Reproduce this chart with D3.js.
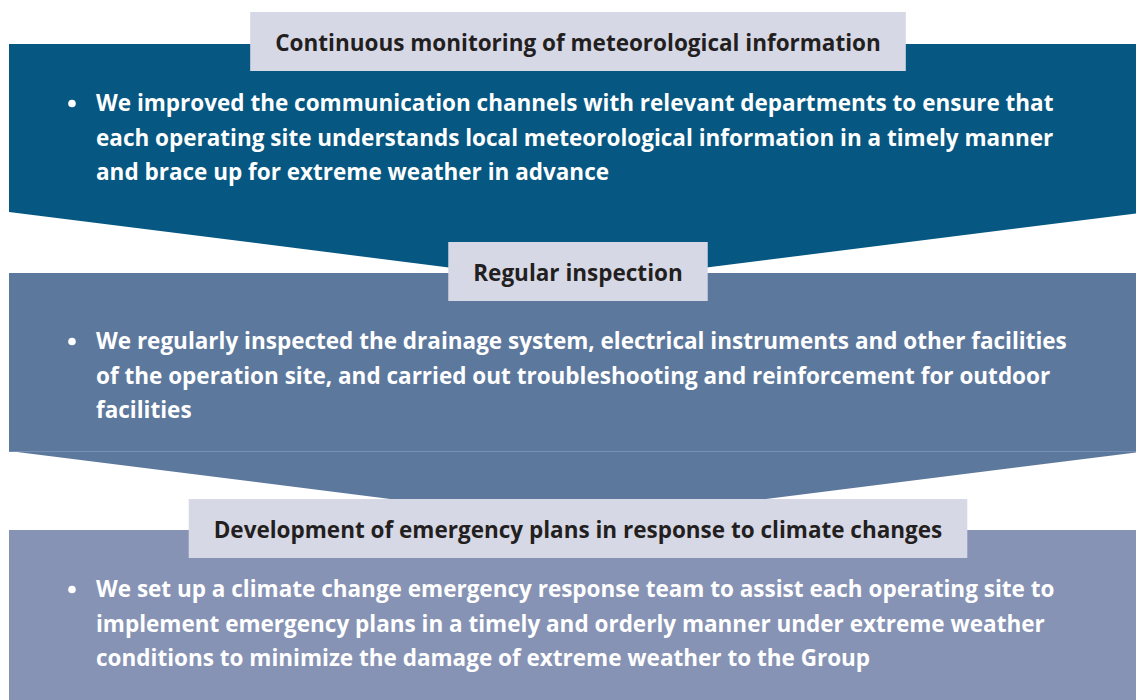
<!DOCTYPE html>
<html>
<head>
<meta charset="utf-8">
<script src="https://cdn.jsdelivr.net/npm/d3@7"></script>
<style>
  body { margin: 0; background: #ffffff; }
  svg { display: block; }
</style>
</head>
<body>
<div id="chart"></div>
<script>
// section titles (the grey tabs)
const titles = [
    "Continuous monitoring of meteorological information",
    "Regular inspection",
    "Development of emergency plans in response to climate changes"
];

// bullet text, one array of wrapped lines per section
const bullets1 = [
    "We improved the communication channels with relevant departments to ensure that",
    "each operating site understands local meteorological information in a timely manner",
    "and brace up for extreme weather in advance"
];
const bullets2 = [
    "We regularly inspected the drainage system, electrical instruments and other facilities",
    "of the operation site, and carried out troubleshooting and reinforcement for outdoor",
    "facilities"
];
const bullets3 = [
    "We set up a climate change emergency response team to assist each operating site to",
    "implement emergency plans in a timely and orderly manner under extreme weather",
    "conditions to minimize the damage of extreme weather to the Group"
];

const fills = ["#065781", "#5d789d", "#8793b4"];

function draw() {
    const w = 1136, h = 700;
    const left = 9, cx = 578, right = 2 * cx - left;
    const font = "'Open Sans', 'Noto Sans', sans-serif";
    const fontSize = "22.5px";

    const svg = d3.select("#chart").append("svg")
        .attr("width", w)
        .attr("height", h);

    const sections = titles.map(function(t, i) {
        return {title: t, lines: [bullets1, bullets2, bullets3][i], fill: fills[i]};
    });

    // band tops and chevron shoulders
    const tops = [44, 273, 530];
    const shoulders = [212, 451, h];
    const tipDrop = 0.126 * (cx - left);

    // draw bottom to top so each chevron tip tucks under the next band
    sections.slice().reverse().forEach(function(s, ri) {
        const i = sections.length - 1 - ri;
        const y0 = tops[i], y1 = shoulders[i];
        let pts;
        if (i < sections.length - 1) {
            pts = [[left, y0], [right, y0], [right, y1], [cx, y1 + tipDrop], [left, y1]];
        } else {
            pts = [[left, y0], [right, y0], [right, y1], [left, y1]];
        }
        svg.insert("path", ":first-child")
            .attr("d", d3.line()(pts) + "Z")
            .attr("fill", s.fill);
    });

    // faint seam on the second band
    svg.append("line")
        .attr("x1", left).attr("x2", w)
        .attr("y1", 451.5).attr("y2", 451.5)
        .attr("stroke", "#7590b0")
        .attr("stroke-width", 1);

    // bullets
    const lineGap = 34.5;
    const firstLine = [111, 349, 597];
    sections.forEach(function(s, i) {
        const g = svg.append("g");
        g.append("circle")
            .attr("cx", 72)
            .attr("cy", firstLine[i] - 7.5)
            .attr("r", 3.8)
            .attr("fill", "#ffffff");
        g.selectAll("text")
            .data(s.lines)
            .enter()
            .append("text")
            .attr("x", 96)
            .attr("y", function(d, j) { return firstLine[i] + j * lineGap; })
            .attr("fill", "#ffffff")
            .style("font-family", font)
            .style("font-weight", "bold")
            .style("font-size", fontSize)
            .text(function(d) { return d; });
    });

    // title tabs
    const tabY = [12, 242, 499], tabH = 59;
    sections.forEach(function(s, i) {
        const g = svg.append("g");
        const rect = g.append("rect")
            .attr("y", tabY[i])
            .attr("height", tabH)
            .attr("fill", "#d7d8e6");
        const t = g.append("text")
            .attr("x", cx)
            .attr("y", tabY[i] + tabH / 2 + 9.5)
            .attr("text-anchor", "middle")
            .attr("fill", "#231f20")
            .style("font-family", font)
            .style("font-weight", "bold")
            .style("font-size", fontSize)
            .text(s.title);
        const tw = t.node().getComputedTextLength();
        rect.attr("x", cx - tw / 2 - 25).attr("width", tw + 50);
    });
}

window.onload = draw;
</script>
</body>
</html>
